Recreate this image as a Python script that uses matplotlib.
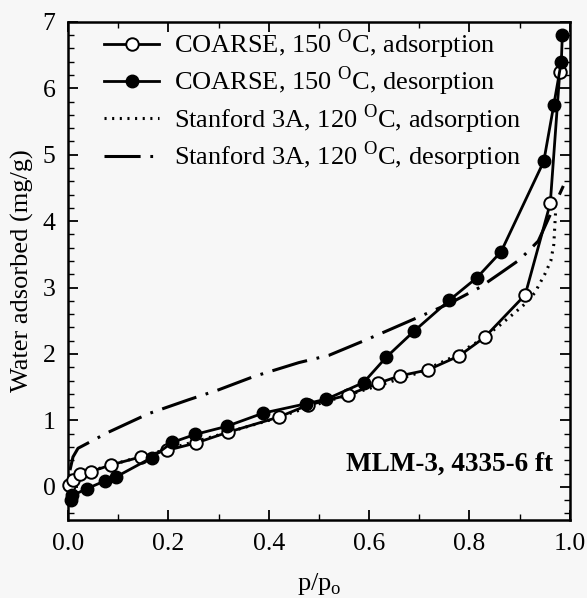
import numpy as np
import matplotlib
matplotlib.use("Agg")
import matplotlib.pyplot as plt

plt.rcParams['font.family'] = ['Liberation Serif', 'DejaVu Serif']
plt.rcParams['mathtext.fontset'] = 'custom'
plt.rcParams['mathtext.rm'] = 'Liberation Serif'
plt.rcParams['lines.scale_dashes'] = False

# COARSE, 150 C, adsorption (open circles)
coarse_ads_p = [0.002, 0.010, 0.024, 0.046, 0.086, 0.145, 0.198, 0.255, 0.318, 0.420,
                0.478, 0.557, 0.618, 0.661, 0.717, 0.779, 0.830, 0.911, 0.961, 0.980]
coarse_ads_w = [0.02, 0.10, 0.20, 0.23, 0.33, 0.45, 0.55, 0.66, 0.82, 1.05,
                1.23, 1.38, 1.56, 1.67, 1.76, 1.97, 2.25, 2.89, 4.27, 6.25]

# COARSE, 150 C, desorption (filled circles)
coarse_des_p = [0.006, 0.009, 0.037, 0.074, 0.096, 0.167, 0.208, 0.254, 0.316, 0.389,
                0.474, 0.515, 0.589, 0.634, 0.689, 0.760, 0.815, 0.863, 0.948, 0.968,
                0.983, 0.985]
coarse_des_w = [-0.20, -0.13, -0.03, 0.09, 0.15, 0.44, 0.67, 0.79, 0.91, 1.11,
                1.25, 1.32, 1.57, 1.95, 2.34, 2.81, 3.15, 3.54, 4.90, 5.75,
                6.40, 6.80]

# Stanford 3A, 120 C, adsorption (dotted)
stan_ads_p = [0.0, 0.01, 0.05, 0.10, 0.20, 0.30, 0.40, 0.50, 0.60, 0.70,
              0.76, 0.82, 0.86, 0.89, 0.91, 0.93, 0.95, 0.962, 0.968, 0.972]
stan_ads_w = [0.0, 0.15, 0.25, 0.36, 0.57, 0.78, 1.00, 1.25, 1.48, 1.72,
              1.93, 2.20, 2.43, 2.62, 2.75, 2.92, 3.20, 3.40, 3.65, 4.20]

# Stanford 3A, 120 C, desorption (dash-dot)
stan_des_p = [0.004, 0.01, 0.02, 0.04, 0.08, 0.12, 0.16, 0.24, 0.30, 0.37,
              0.46, 0.52, 0.59, 0.63, 0.706, 0.76, 0.82, 0.866, 0.90, 0.937, 0.987]
stan_des_w = [0.25, 0.45, 0.58, 0.66, 0.82, 0.96, 1.10, 1.31, 1.46, 1.66,
              1.87, 1.98, 2.20, 2.33, 2.58, 2.76, 3.00, 3.24, 3.42, 3.70, 4.53]

labels = ['COARSE, 150 $^{\\rm O}$C, adsorption',
          'COARSE, 150 $^{\\rm O}$C, desorption',
          'Stanford 3A, 120 $^{\\rm O}$C, adsorption',
          'Stanford 3A, 120 $^{\\rm O}$C, desorption']

bg = '#f7f7f7'
fig = plt.figure(figsize=(5.87, 5.98), dpi=100, facecolor=bg)
ax = fig.add_axes([0.1158, 0.1304, 0.855, 0.833], facecolor=bg)

ax.plot(stan_ads_p, stan_ads_w, color='black', lw=2.2,
        linestyle=(0, (1.5, 4.0)), label=labels[2], zorder=2)
ax.plot(stan_des_p, stan_des_w, color='black', lw=2.2,
        linestyle=(0, (26, 7, 2, 7)), label=labels[3], zorder=2)
ax.plot(coarse_ads_p, coarse_ads_w, color='black', lw=2.0, marker='o', ms=9,
        mfc='white', mec='black', mew=1.4, label=labels[0], zorder=3, clip_on=False)
ax.plot(coarse_des_p, coarse_des_w, color='black', lw=2.0, marker='o', ms=9,
        mfc='black', mec='black', label=labels[1], zorder=4, clip_on=False)

ax.set_xlim(0, 1.0)
ax.set_ylim(-0.5, 7)
ax.set_xticks(np.arange(0, 1.01, 0.2))
ax.set_xticks(np.arange(0, 1.01, 0.1), minor=True)
ax.set_yticks(np.arange(0, 8, 1))
ax.set_yticks(np.arange(-0.4, 7.01, 0.2), minor=True)
ax.set_xticklabels(['0.0', '0.2', '0.4', '0.6', '0.8', '1.0'])
ax.tick_params(which='both', direction='in', top=True, right=True, labelsize=18.5)
ax.tick_params(which='major', length=7, width=1.3, pad=9)
ax.tick_params(which='minor', length=4, width=1.0)
for s in ax.spines.values():
    s.set_linewidth(1.8)

ax.set_xlabel('p/p$_{\\rm o}$', fontsize=19, labelpad=12)
ax.set_ylabel('Water adsorbed (mg/g)', fontsize=19, labelpad=6)

ax.text(0.966, 0.10, 'MLM-3, 4335-6 ft', transform=ax.transAxes, ha='right',
        va='baseline', fontsize=19.5, fontweight='bold')

h, l = ax.get_legend_handles_labels()
order = [2, 3, 0, 1]
ax.legend([h[i] for i in order], [l[i] for i in order], loc='upper left',
          bbox_to_anchor=(0.035, 1.026), frameon=False, fontsize=19,
          handlelength=2.1, handletextpad=0.55, labelspacing=0.14, borderaxespad=0.3)

fig.savefig('out.png', dpi=100, facecolor=bg)
